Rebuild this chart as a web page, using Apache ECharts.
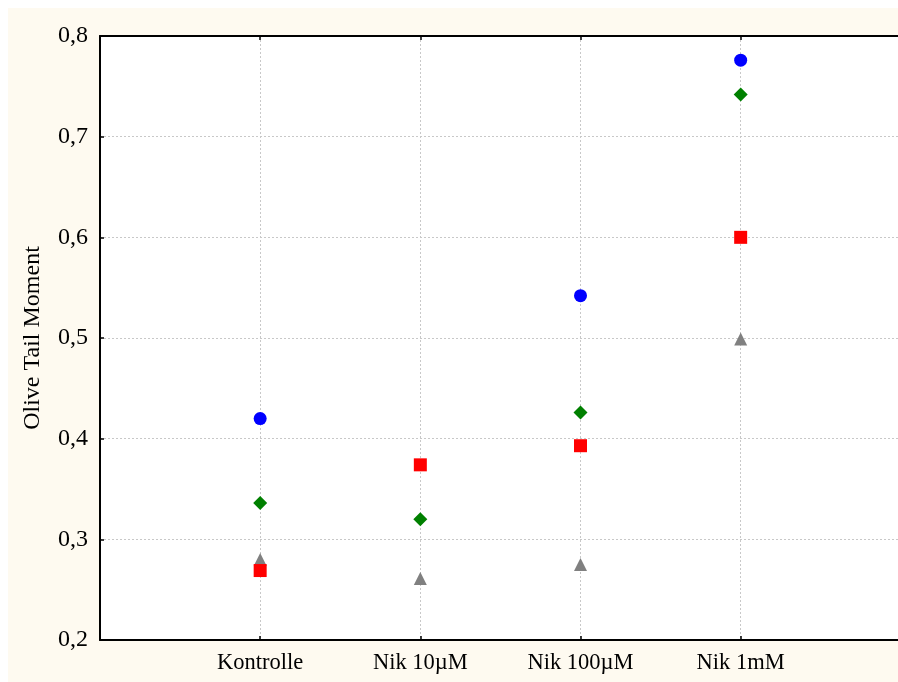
<!DOCTYPE html>
<html>
<head>
<meta charset="utf-8">
<script src="https://cdn.jsdelivr.net/npm/echarts@6/dist/echarts.min.js"></script>
<style>
html,body{margin:0;padding:0;background:#fff;overflow:hidden;}
#c{width:898px;height:682px;}
</style>
</head>
<body>
<div id="c"></div>
<script>
const categories = ['Kontrolle', 'Nik 10µM', 'Nik 100µM', 'Nik 1mM'];
const circleVals = [0.420, null, 0.542, 0.776];
const squareVals = [0.269, 0.374, 0.393, 0.600];
const diamondVals = [0.336, 0.320, 0.426, 0.742];
const triangleVals = [0.280, 0.261, 0.275, 0.499];
const yTicks = [0.2, 0.3, 0.4, 0.5, 0.6, 0.7, 0.8];

function pts(vals) {
  const out = [];
  vals.forEach((v, i) => { if (v !== null) out.push([i + 1, v]); });
  return out;
}
const font = 'Liberation Serif';
const chart = echarts.init(document.getElementById('c'));
chart.setOption({
  backgroundColor: '#ffffff',
  animation: false,
  graphic: [{
    type: 'rect', z: -10, silent: true,
    shape: {x: 8, y: 8, width: 890, height: 674},
    style: {fill: '#fefaf0'}
  }],
  grid: {
    left: 100, top: 36, width: 961, bottom: 42,
    outerBoundsMode: 'none', containLabel: false,
    show: true, backgroundColor: '#ffffff', borderWidth: 0
  },
  xAxis: [{
    type: 'value', min: 0, max: categories.length + 2, interval: 1,
    axisLine: {show: true, lineStyle: {color: '#000', width: 2}},
    axisTick: {show: true, inside: true, length: 4, lineStyle: {color: '#000', width: 1.5}},
    axisLabel: {
      margin: 12, color: '#000', fontFamily: font, fontSize: 22.5,
      formatter: v => (v >= 1 && v <= categories.length) ? categories[v - 1] : ''
    },
    splitLine: {show: true, lineStyle: {color: '#c8c8c8', type: [2, 2], width: 1}}
  }, {
    type: 'value', position: 'top', min: 0, max: categories.length + 2, interval: 1,
    axisLine: {show: true, lineStyle: {color: '#000', width: 2}},
    axisTick: {show: true, inside: true, length: 4, lineStyle: {color: '#000', width: 1.5}},
    axisLabel: {show: false},
    splitLine: {show: false}
  }],
  yAxis: {
    type: 'value', min: yTicks[0], max: yTicks[yTicks.length - 1], interval: 0.1,
    name: 'Olive Tail Moment', nameLocation: 'middle', nameGap: 55,
    nameTextStyle: {color: '#000', fontFamily: font, fontSize: 24},
    axisLine: {show: true, lineStyle: {color: '#000', width: 2}},
    axisTick: {show: true, inside: true, length: 4, lineStyle: {color: '#000', width: 1.5}},
    axisLabel: {
      margin: 12, color: '#000', fontFamily: font, fontSize: 24,
      formatter: v => v.toFixed(1).replace('.', ',')
    },
    splitLine: {show: true, lineStyle: {color: '#c8c8c8', type: [2, 2], width: 1}}
  },
  series: [
    {type: 'scatter', symbol: 'triangle', symbolSize: 13, data: pts(triangleVals), itemStyle: {color: '#808080', opacity: 1}, z: 2},
    {type: 'scatter', symbol: 'diamond', symbolSize: 14, data: pts(diamondVals), itemStyle: {color: '#008000', opacity: 1}, z: 3},
    {type: 'scatter', symbol: 'rect', symbolSize: 13, data: pts(squareVals), itemStyle: {color: '#ff0000', opacity: 1}, z: 4},
    {type: 'scatter', symbol: 'circle', symbolSize: 13, data: pts(circleVals), itemStyle: {color: '#0000ff', opacity: 1}, z: 5}
  ]
});
</script>
</body>
</html>
